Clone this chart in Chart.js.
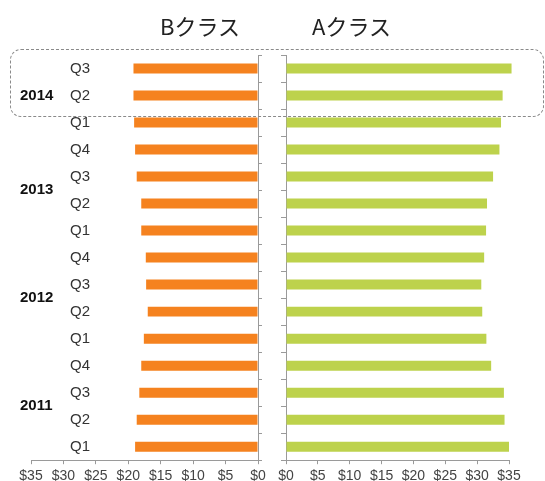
<!DOCTYPE html>
<html lang="ja">
<head>
<meta charset="UTF-8">
<title>Bクラス / Aクラス</title>
<script src="https://cdn.jsdelivr.net/npm/chart.js"></script>
<style>
  html, body { margin: 0; padding: 0; background: #fff; }
  #wrap { position: relative; width: 545px; height: 481px; overflow: hidden; }
  .pane { position: absolute; top: 0; height: 489px; }
  #paneB { left: 0; width: 272px; }
  #paneA { left: 272px; width: 273px; }
  .title { position: absolute; top: 9px; font: 22px "Noto Sans CJK JP", sans-serif; color: #222; white-space: nowrap; }
  #hl { position: absolute; left: 10px; width: 532px; border: 1px dashed #8a8a8a; border-radius: 11px; pointer-events: none; }
</style>
</head>
<body>
<div id="wrap">
  <div class="pane" id="paneB"><canvas id="chartB"></canvas></div>
  <div class="pane" id="paneA"><canvas id="chartA"></canvas></div>
  <div class="title" style="left:160px">Bクラス</div>
  <div class="title" style="left:312px">Aクラス</div>
  <div id="hl"></div>
</div>

<script>
// データ（2011 Q1 → 2014 Q3）
const quarters = ['Q1','Q2','Q3','Q4', 'Q1','Q2','Q3','Q4', 'Q1','Q2','Q3','Q4', 'Q1','Q2','Q3'];
const years    = ['2011','2011','2011','2011', '2012','2012','2012','2012', '2013','2013','2013','2013', '2014','2014','2014'];
const classB   = [18.95, 18.7, 18.3, 18.0, 17.6, 17.0, 17.25, 17.3, 18.0, 18.0, 18.7, 18.95, 19.1, 19.2, 19.2];
const classA   = [35.0, 34.3, 34.2, 32.2, 31.45, 30.8, 30.65, 31.1, 31.4, 31.55, 32.5, 33.5, 33.75, 34.0, 35.4];
const highlightRows = [13, 14]; // 2014 Q2, Q3

const orange = '#F5821F';
const green = '#BDD24C';
const axisColor = '#9a9a9a';
const tickFont = { family: '"Liberation Sans", Arial, sans-serif', size: 14 };

function xScale(reverse) {
  return {
    min: 0, max: 35, reverse: reverse,
    ticks: { stepSize: 5, autoSkip: false, maxRotation: 0, padding: 4, color: '#444', font: tickFont,
             callback: v => '$' + v },
    grid: { drawOnChartArea: false, tickLength: 4, color: axisColor },
    border: { color: axisColor }
  };
}

// 年ラベル（各年の行の中央）
const yearLabels = {
  id: 'yearLabels',
  afterDraw(chart) {
    const s = chart.scales.y;
    const ctx = chart.ctx;
    const groups = {};
    years.forEach((y, i) => { (groups[y] = groups[y] || []).push(s.getPixelForValue(i)); });
    ctx.save();
    ctx.font = 'bold 15px "Liberation Sans", Arial, sans-serif';
    ctx.fillStyle = '#111';
    ctx.textAlign = 'left';
    ctx.textBaseline = 'middle';
    Object.keys(groups).forEach(y => {
      const p = groups[y];
      ctx.fillText(y, 20, p.reduce((a, b) => a + b, 0) / p.length);
    });
    ctx.restore();
  }
};

const chartB = new Chart(document.getElementById('chartB'), {
  type: 'bar',
  data: {
    labels: quarters,
    datasets: [{ data: classB, backgroundColor: orange, barPercentage: 0.37, categoryPercentage: 1, yAxisID: 'y' }]
  },
  options: {
    indexAxis: 'y',
    responsive: true, maintainAspectRatio: false, animation: false,
    layout: { padding: { left: 31, right: 10, top: 55, bottom: 0 } },
    plugins: { legend: { display: false }, tooltip: { enabled: false } },
    scales: {
      x: xScale(true),
      y: {
        position: 'right', reverse: true, offset: true,
        grid: { drawOnChartArea: false, tickLength: 4, offset: true, color: axisColor },
        border: { color: axisColor },
        ticks: { display: false }
      },
      yq: {
        type: 'category', position: 'left', reverse: true, offset: true,
        grid: { display: false }, border: { display: false },
        ticks: { mirror: true, padding: 39, color: '#333', font: { family: tickFont.family, size: 15 } },
        afterFit: s => { s.width = 0; s.paddingTop = 0; s.paddingBottom = 0; }
      }
    }
  },
  plugins: [yearLabels]
});

const chartA = new Chart(document.getElementById('chartA'), {
  type: 'bar',
  data: {
    labels: quarters,
    datasets: [{ data: classA, backgroundColor: green, barPercentage: 0.37, categoryPercentage: 1, clip: false }]
  },
  options: {
    indexAxis: 'y',
    responsive: true, maintainAspectRatio: false, animation: false,
    layout: { padding: { left: 9, right: 36, top: 55, bottom: 0 } },
    plugins: { legend: { display: false }, tooltip: { enabled: false } },
    scales: {
      x: xScale(false),
      y: {
        position: 'left', reverse: true, offset: true,
        grid: { drawOnChartArea: false, tickLength: 5, offset: true, color: axisColor },
        border: { color: axisColor },
        ticks: { display: false }
      }
    }
  }
});

// 2014 Q2–Q3 を囲む点線枠
const ys = chartB.scales.y;
const step = Math.abs(ys.getPixelForValue(0) - ys.getPixelForValue(1));
const rowPx = highlightRows.map(i => ys.getPixelForValue(i));
const hl = document.getElementById('hl');
hl.style.top = (Math.min(...rowPx) - step * 0.72) + 'px';
hl.style.height = (Math.max(...rowPx) - Math.min(...rowPx) + step * 1.44) + 'px';
</script>
</body>
</html>
